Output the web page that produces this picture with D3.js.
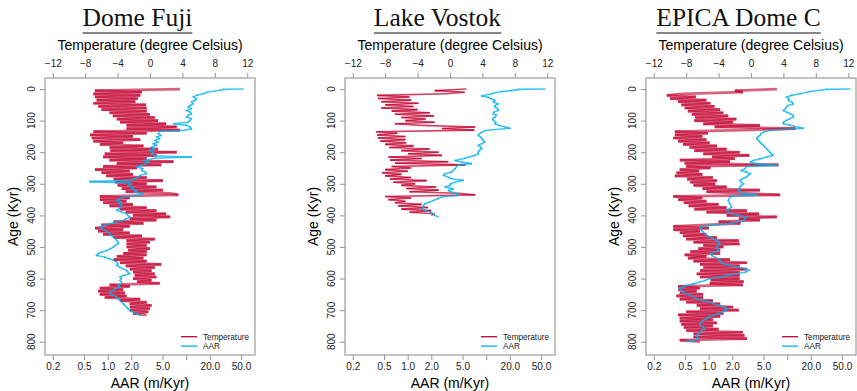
<!DOCTYPE html>
<html><head><meta charset="utf-8">
<script src="https://cdn.jsdelivr.net/npm/d3@7"></script>
<style>body{margin:0;background:#fff}svg{display:block}</style>
</head><body><svg id="c" width="857" height="391"></svg>
<script>
// ---------------- data ----------------
const panelTitles = ["Dome Fuji", "Lake Vostok", "EPICA Dome C"];
const tempTicks = [-12, -8, -4, 0, 4, 8, 12];
const aarTicks = [0.2, 0.5, 1, 2, 5, 10, 20, 50];
const aarTickLabels = ["0.2", "0.5", "1.0", "2.0", "5.0", "", "20.0", "50.0"];
const ageTicks = [0, 100, 200, 300, 400, 500, 600, 700, 800];
const legendLabels = ["Temperature", "AAR"];
const tempAgeStep = 5; // kyr between temperature samples, starting at 0

// Dome Fuji temperature (deg C), one value every 5 kyr from 0 kyr
const fujiTemp = [3.7,-6.8,-1.0,-7.0,-1.2,-6.8,-1.5,-6.6,-1.8,-7.0,-0.5,-6.4,-0.4,-6.0,-0.4,-5.0,0.0,-4.6,0.6,-4.1,
 1.0,-3.7,2.0,-2.9,3.3,-2.9,3.7,-7.0,-0.4,-7.4,-2.1,-7.2,-1.2,-7.0,-3.3,-6.2,-0.8,-5.0,1.0,-4.9,
 3.3,-5.6,0.8,-5.8,-0.4,-5.0,2.9,-4.1,1.4,-5.8,-1.6,-6.8,-2.5,-6.0,-2.1,-5.4,-0.4,-4.5,1.6,-4.3,
 -0.4,-4.0,0.8,-3.5,1.6,-3.0,2.5,3.5,-6.2,-2.5,-6.2,-2.9,-5.8,-2.1,-5.0,-0.4,-3.7,0.8,-3.0,2.0,
 -2.1,2.5,-2.5,0.8,-4.5,-0.8,-6.0,-2.5,-6.8,-3.3,-6.4,-2.5,-5.8,-1.0,-4.5,0.6,-2.9,0.0,-2.9,-0.4,
 -2.9,0.0,-2.7,-0.4,-3.3,-0.4,-4.1,-0.8,-4.5,-0.4,-3.7,1.4,-3.0,0.6,-2.5,0.2,-2.1,0.6,-1.9,0.8,
 -2.1,0.2,-1.6,1.2,-5.0,-2.5,-6.2,-3.3,-6.4,-3.1,-6.2,-2.9,-5.6,-1.2,-3.7,-0.4,-2.5,0.2,-2.5,0.0,
 -2.5,-0.2,-2.1,-0.4];
// Dome Fuji AAR (m/kyr): [age kyr, value]
const fujiAar = [[0,53],[1,30],[4,27],[10,18.3],[15,16.6],[20,13.6],[25,12.3],[31,13.6],[36,12.9],[41,11.7],[47,12.3],[52,11.2],
 [57,10.6],[62,11.7],[68,10.1],[73,11.2],[78,11.7],[83,10.6],[89,10.1],[94,11.7],[99,11.2],[105,10.6],[110,6.9],[115,10.1],
 [120,11.2],[126,11.7],[131,9.0],[134,4.6],[142,4.4],[147,4.8],[152,4.2],[157,4.6],[163,4.0],[168,4.4],[173,3.8],[178,4.2],
 [184,3.6],[189,4.0],[194,3.4],[200,3.8],[205,3.6],[212,4.2],[215,11.7],[219,4.0],[226,2.84],[231,3.4],[236,3.1],[242,2.6],
 [247,2.34],[252,2.8],[258,2.7],[263,3.0],[268,3.13],[273,2.6],[279,2.45],[284,2.2],[289,1.92],[293,0.59],[297,1.9],[300,2.0],
 [305,1.8],[310,2.12],[316,2.0],[321,2.34],[326,2.2],[331,2.84],[337,2.5],[342,1.58],[347,1.4],[353,1.3],[358,1.5],[363,1.36],
 [368,1.5],[374,1.5],[379,1.4],[384,1.3],[389,1.5],[395,1.74],[400,1.8],[405,1.92],[411,1.7],[416,1.58],[421,1.3],[426,1.07],
 [432,0.9],[437,0.79],[442,0.85],[447,0.92],[453,1.0],[458,1.07],[463,1.1],[469,1.18],[474,1.25],[479,1.3],[484,1.36],[490,1.36],
 [495,1.25],[500,1.18],[505,1.1],[511,0.97],[516,0.85],[521,0.76],[527,0.72],[532,0.92],[537,1.05],[542,1.18],[548,1.3],[553,1.36],
 [558,1.3],[564,1.43],[569,1.58],[574,1.74],[579,1.8],[585,1.92],[590,1.6],[595,1.43],[600,1.5],[606,1.43],[611,1.5],[616,1.5],
 [622,1.36],[627,1.43],[632,1.25],[637,1.18],[643,1.07],[648,1.07],[653,1.18],[658,1.3],[664,1.36],[669,1.43],[674,1.5],[680,1.58],
 [685,1.65],[690,1.74],[695,1.8],[701,1.92],[706,2.1],[711,2.34],[717,2.6]];

// Lake Vostok temperature (deg C), one value every 5 kyr from 0 kyr
const vostokTemp = [2.0,-1.9,1.8,-0.5,-9.0,-5.0,-8.9,-4.8,-8.5,-3.9,-8.0,-4.5,-8.5,-4.0,-7.2,-2.5,-6.8,-2.0,-6.0,-3.0,
 -5.5,-1.9,-6.8,-3.5,3.1,-1.0,3.0,-9.1,-6.5,-9.0,-5.5,-8.9,-5.5,-8.6,-5.4,-8.0,-4.5,-7.5,-2.5,-6.0,
 -1.4,-5.2,-1.0,-7.6,-3.5,-7.4,-0.2,-6.8,1.9,-7.2,-4.8,-8.0,-5.2,-8.4,-6.0,-8.0,-4.8,-7.4,-2.9,-7.0,
 -4.3,-6.0,-1.7,-5.4,-1.4,-5.0,1.0,3.1,-8.0,-4.8,-7.6,-5.5,-6.8,-3.5,-6.4,-2.7,-6.0,-2.3,-5.0,-1.9,-2.3];
// Lake Vostok AAR (m/kyr): [age kyr, value]
const vostokAar = [[0,56],[1,26],[5,21],[8,15.7],[15,11.7],[22,8.75],[26,10.6],[31,11.5],[36,12.9],[41,12.3],[47,14.3],[52,13.0],
 [57,12.9],[62,14.0],[68,14.3],[73,12.5],[78,12.3],[83,13.5],[89,12.9],[94,12.0],[99,12.3],[105,13.3],[110,12.9],[115,14.5],
 [120,17.4],[124,20.1],[131,9.7],[137,8.75],[142,8.2],[147,7.9],[152,8.5],[157,8.75],[163,9.2],[168,9.66],[173,8.8],[178,7.9],
 [184,8.5],[189,8.75],[194,8.2],[200,7.9],[205,8.0],[210,7.2],[215,6.0],[219,5.37],[226,4.0],[231,4.87],[236,6.5],[240,4.4],
 [252,4.0],[263,3.63],[268,2.98],[273,2.84],[279,3.3],[284,3.63],[289,5.1],[295,4.0],[300,3.5],[305,3.45],[310,3.0],[316,3.81],
 [321,3.3],[326,3.63],[331,4.2],[337,4.41],[342,2.7],[347,2.4],[353,2.12],[358,1.92],[363,1.66],[368,1.6],[374,1.58],[379,1.5],
 [384,1.66],[389,1.92],[395,2.12],[400,2.22],[405,2.45]];

// EPICA Dome C temperature (deg C), one value every 5 kyr from 0 kyr
const epicaTemp = [3.2,-2.0,-1.0,-8.5,-10.4,-6.8,-10.0,-5.5,-9.0,-5.0,-8.6,-4.5,-8.2,-3.8,-7.8,-3.4,-7.3,-2.8,-6.9,-1.8,
 -7.0,-2.2,-5.9,1.1,-4.5,5.5,-1.0,-9.4,-5.3,-9.4,-6.0,-9.6,-5.5,-9.0,-5.1,-8.4,-4.2,-7.6,-3.0,-7.0,
 -1.4,-5.9,-0.2,-4.8,-2.0,-8.8,-2.6,-8.2,3.4,-8.0,-5.0,-8.8,-6.4,-9.2,-6.0,-9.4,-4.7,-7.9,-4.2,-7.5,
 -4.4,-7.1,-3.0,-6.0,1.1,-5.5,-0.5,3.6,-9.6,-6.0,-9.0,-5.5,-8.3,-4.0,-7.7,-3.0,-7.0,-0.5,-5.5,1.0,
 -3.0,3.2,-1.5,1.1,-4.0,-1.3,-5.5,-9.6,-5.2,-9.6,-6.3,-8.8,-5.5,-8.4,-4.2,-8.0,-1.5,-7.1,-1.4,-5.9,
 -3.4,-6.5,-3.8,-7.5,-3.8,-8.2,-5.5,-7.8,-2.6,-7.1,-0.5,-6.3,-1.4,-5.9,-0.5,-6.3,-1.4,-6.7,-1.4,-6.3,
 -1.4,-5.0,-0.9,-5.1,-1.0,-9.0,-6.3,-9.0,-6.7,-8.8,-5.9,-9.2,-5.9,-8.8,-4.7,-8.0,-3.8,-6.7,-2.2,-6.3,
 -1.5,-8.0,-3.4,-9.0,-3.8,-8.8,-4.7,-8.8,-4.2,-8.6,-4.7,-8.3,-4.0,-8.0,-1.0,-7.1,-0.8,-7.1,-0.5,-8.8,-6.3];
// EPICA Dome C AAR (m/kyr): [age kyr, value]
const epicaAar = [[0,63],[1,32],[8,19.5],[15,14.6],[20,11.4],[25,9.8],[31,10.5],[36,10.4],[41,11.5],[47,12.0],[52,10.2],[57,9.8],
 [62,9.5],[68,8.9],[73,9.9],[78,10.9],[83,11.8],[89,12.0],[94,10.8],[99,9.8],[105,9.0],[110,8.9],[115,10.9],[124,16.1],
 [131,6.0],[136,5.0],[142,4.6],[147,4.5],[152,4.2],[157,4.1],[163,4.3],[168,4.5],[173,4.7],[178,5.0],[184,5.2],[189,5.5],
 [194,5.7],[200,6.0],[205,6.3],[210,6.6],[215,5.5],[221,4.5],[226,3.7],[231,3.4],[236,4.0],[242,7.5],[245,3.0],[252,2.9],
 [258,2.6],[263,3.0],[268,3.4],[273,3.2],[279,3.0],[284,2.7],[289,2.5],[295,2.6],[300,2.8],[305,2.6],[310,2.5],[316,2.45],
 [321,2.4],[326,2.6],[331,2.8],[335,4.2],[339,2.0],[342,1.86],[353,1.77],[363,1.86],[374,1.96],[384,1.69],[395,1.96],[400,2.4],
 [405,3.04],[411,2.9],[416,2.76],[421,2.3],[426,1.86],[432,1.0],[437,0.77],[442,0.8],[447,0.81],[453,0.85],[458,0.9],[463,0.96],
 [469,1.04],[474,1.15],[479,1.26],[484,1.33],[490,1.39],[495,1.33],[500,1.26],[505,1.3],[511,1.32],[516,1.2],[521,1.04],[527,1.1],
 [532,1.2],[537,1.3],[542,1.39],[548,1.45],[553,1.53],[558,1.8],[564,2.4],[569,2.9],[573,3.3],[579,3.0],[585,2.3],[590,1.69],
 [595,1.4],[600,1.04],[606,0.9],[611,0.77],[616,0.65],[622,0.52],[627,0.47],[632,0.42],[637,0.45],[643,0.47],[648,0.52],[653,0.58],
 [658,0.64],[664,0.7],[669,0.85],[674,1.04],[680,1.15],[685,1.39],[690,1.53],[695,1.77],[701,1.6],[706,1.53],[711,1.3],[717,1.14],
 [722,1.0],[727,0.94],[732,0.85],[738,0.81],[743,0.77],[748,0.77],[753,0.85],[759,0.9],[764,0.81],[769,0.81],[775,0.74],[780,0.7],
 [785,0.72],[790,0.74],[796,0.65],[799,0.52]];

// ---------------- drawing ----------------
const tempSeries = [fujiTemp, vostokTemp, epicaTemp];
const aarSeries = [fujiAar, vostokAar, epicaAar];
const panelLeft = [45, 345, 646];
const boxW = 210, boxTop = 78, boxBottom = 355;
const RED = "#C4002F", BLUE = "#00B2EE", GRID = "#9c9c9c";
const SANS = "'Liberation Sans', Arial, Helvetica, sans-serif";
const svg = d3.select("#c");

panelTitles.forEach((title, i) => {
  const L = panelLeft[i], R = L + boxW;
  const g = svg.append("g");
  const xT = d3.scaleLinear().domain([-12.96, 12.96]).range([L, R]);
  const xA = d3.scaleLog().domain([0.159, 75.3]).range([L, R]);
  const y = d3.scaleLinear().domain([-35, 842]).range([boxTop, boxBottom]);

  // temperature segments (individual so overlaps darken)
  const tPts = tempSeries[i].map((v, k) => [xT(v), y(k * tempAgeStep)]);
  g.append("g").selectAll("line").data(d3.pairs(tPts)).join("line")
    .attr("x1", d => d[0][0]).attr("y1", d => d[0][1])
    .attr("x2", d => d[1][0]).attr("y2", d => d[1][1])
    .attr("stroke", RED).attr("stroke-opacity", i === 1 ? 0.75 : 0.62).attr("stroke-width", i === 1 ? 1.6 : 2.7);

  const aPts = aarSeries[i].map(d => [xA(d[1]), y(d[0])]);
  g.append("g").selectAll("line").data(d3.pairs(aPts)).join("line")
    .attr("x1", d => d[0][0]).attr("y1", d => d[0][1])
    .attr("x2", d => d[1][0]).attr("y2", d => d[1][1])
    .attr("stroke", BLUE).attr("stroke-opacity", 0.75).attr("stroke-width", 1.6)
    .attr("stroke-linecap", "round");

  // box
  g.append("rect").attr("x", L).attr("y", boxTop).attr("width", boxW).attr("height", boxBottom - boxTop)
    .attr("fill", "none").attr("stroke", GRID).attr("stroke-width", 1.2);

  // top axis (temperature)
  const top = g.append("g").attr("transform", `translate(0,${boxTop})`)
    .call(d3.axisTop(xT).tickValues(tempTicks).tickSize(5).tickPadding(6).tickFormat(d3.format("d")));
  // bottom axis (AAR, log)
  const bot = g.append("g").attr("transform", `translate(0,${boxBottom})`)
    .call(d3.axisBottom(xA).tickValues(aarTicks).tickSize(5).tickPadding(3)
      .tickFormat((d, k) => aarTickLabels[k]));
  // left axis (age)
  const left = g.append("g").attr("transform", `translate(${L},0)`)
    .call(d3.axisLeft(y).tickValues(ageTicks).tickSize(5).tickFormat(""));
  [top, bot, left].forEach(a => {
    a.select(".domain").remove();
    a.selectAll(".tick line").attr("stroke", GRID).attr("stroke-width", 1.1);
    a.selectAll(".tick text").attr("font-family", SANS).attr("font-size", 10).attr("fill", "#222");
  });
  // rotated age tick labels
  g.append("g").selectAll("text").data(ageTicks).join("text")
    .attr("transform", d => `translate(${L - 10.5},${y(d)}) rotate(-90)`)
    .attr("text-anchor", "middle").attr("font-family", SANS).attr("font-size", 10).attr("fill", "#222")
    .text(d => d);

  // axis titles
  g.append("text").attr("x", L + boxW / 2).attr("y", 50).attr("text-anchor", "middle")
    .attr("font-family", SANS).attr("font-size", 14).text("Temperature (degree Celsius)");
  g.append("text").attr("x", L + boxW / 2).attr("y", 388).attr("text-anchor", "middle")
    .attr("font-family", SANS).attr("font-size", 14).text("AAR (m/Kyr)");
  g.append("text").attr("transform", `translate(${L - 27},${(boxTop + boxBottom) / 2}) rotate(-90)`)
    .attr("text-anchor", "middle").attr("font-family", SANS).attr("font-size", 14).text("Age (Kyr)");

  // panel title, underlined
  const tx = L + boxW / 2 - 12.5;
  const tt = g.append("text").attr("x", tx).attr("y", 26).attr("text-anchor", "middle")
    .attr("font-family", "'Liberation Serif', 'DejaVu Serif', serif").attr("font-size", 25.5).attr("fill", "#111")
    .text(title);
  const bb = tt.node().getBBox();
  g.append("line").attr("x1", bb.x).attr("x2", bb.x + bb.width).attr("y1", 33).attr("y2", 33)
    .attr("stroke", "#111").attr("stroke-width", 1.2);

  // legend
  const legColors = [RED, BLUE];
  legendLabels.forEach((lab, k) => {
    const ly = 336.7 + k * 9.4;
    g.append("line").attr("x1", R - 74).attr("x2", R - 58).attr("y1", ly).attr("y2", ly)
      .attr("stroke", legColors[k]).attr("stroke-width", 1.3);
    g.append("text").attr("x", R - 52).attr("y", ly + 3).attr("font-family", SANS).attr("font-size", 8.2)
      .attr("fill", "#222").text(lab);
  });
});
</script>
</body></html>
